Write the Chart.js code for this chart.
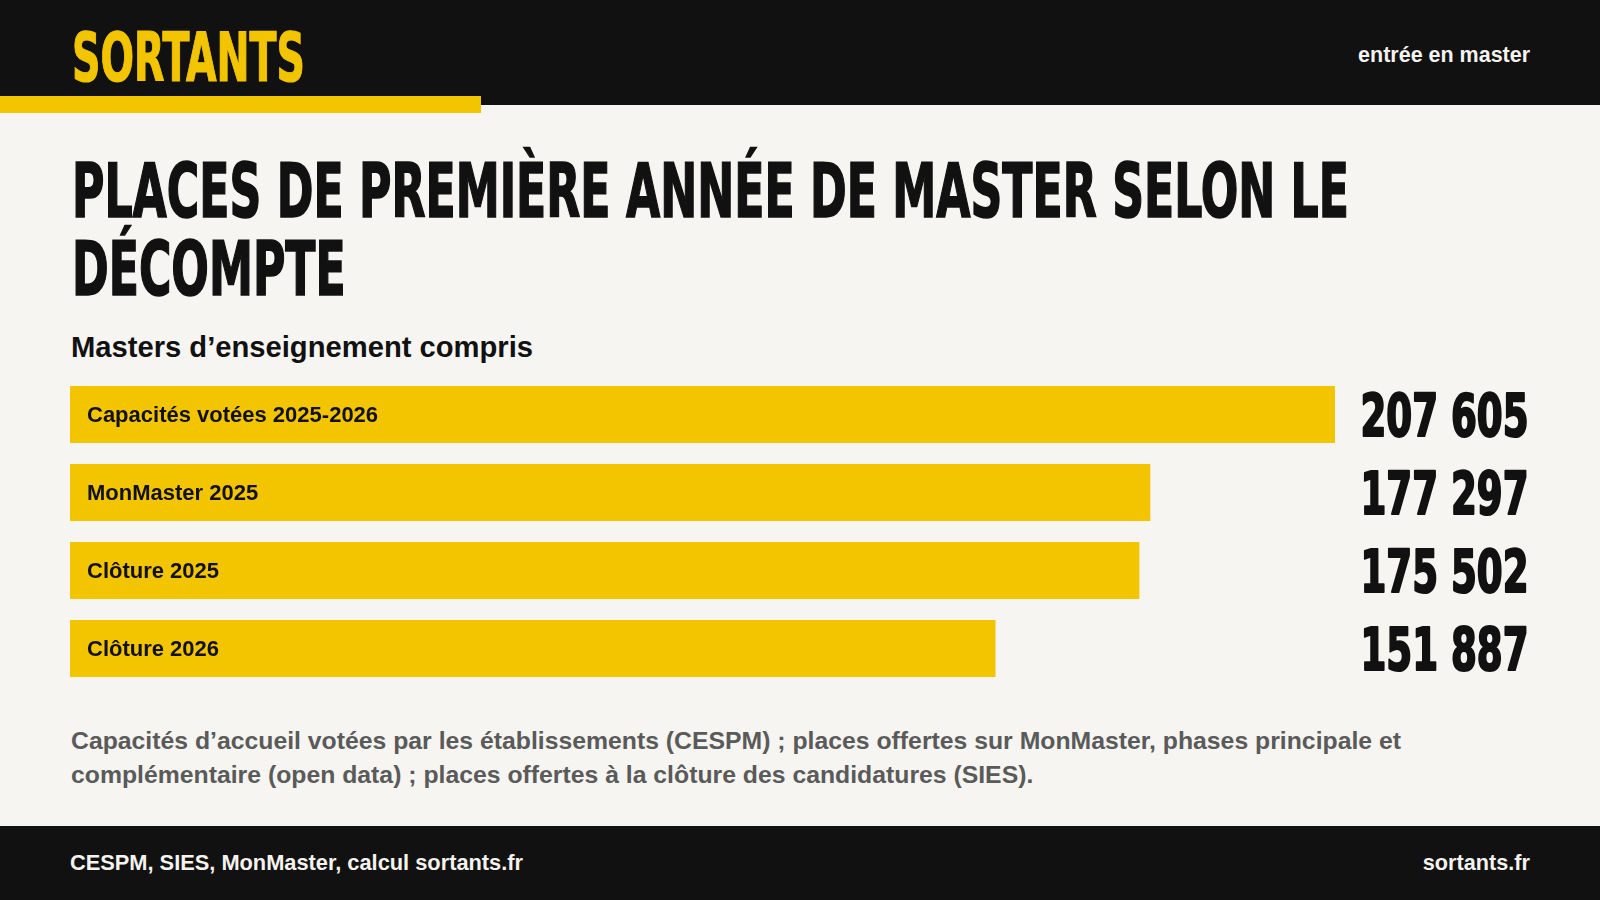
<!DOCTYPE html>
<html lang="fr">
<head>
<meta charset="utf-8">
<script src="https://cdn.jsdelivr.net/npm/chart.js@4.4.1/dist/chart.umd.min.js"></script>
<style>
  html, body { margin:0; padding:0; }
  body { width:1600px; height:900px; background:#f7f5f1; position:relative; overflow:hidden;
         font-family:"Liberation Sans", Arial, sans-serif; }
  .abs { position:absolute; white-space:nowrap; line-height:normal; }
  .band { position:absolute; left:0; width:1600px; background:#111111; }
  .disp { font-family:"DejaVu Sans Condensed", "DejaVu Sans", sans-serif; font-weight:bold; }
  #chartBox { position:absolute; left:0; top:360px; width:1600px; height:340px; }
</style>
</head>
<body>
<div class="band" style="top:0;height:105px;"></div>
<div style="position:absolute;left:0;top:96px;width:481px;height:17px;background:#f2c500;"></div>
<div class="band" style="top:826px;height:74px;"></div>

<div id="brand" class="abs disp" style="font-size:68px;color:#f2c500;-webkit-text-stroke:1.2px #f2c500;">SORTANTS</div>
<div id="tag" class="abs" style="font-size:22px;font-weight:bold;color:#f5f3ee;">entrée en master</div>

<div id="t1" class="abs disp" style="font-size:75px;color:#111;-webkit-text-stroke:1.6px #111;">PLACES DE PREMIÈRE ANNÉE DE MASTER SELON LE</div>
<div id="t2" class="abs disp" style="font-size:75px;color:#111;-webkit-text-stroke:1.6px #111;">DÉCOMPTE</div>

<div id="sub" class="abs" style="font-size:29px;font-weight:bold;color:#111;">Masters d’enseignement compris</div>

<div id="chartBox"><canvas id="c"></canvas></div>

<div id="n1" class="abs" style="font-size:24px;font-weight:bold;color:#5a5a5a;">Capacités d’accueil votées par les établissements (CESPM) ; places offertes sur MonMaster, phases principale et</div>
<div id="n2" class="abs" style="font-size:24px;font-weight:bold;color:#5a5a5a;">complémentaire (open data) ; places offertes à la clôture des candidatures (SIES).</div>

<div id="src" class="abs" style="font-size:22px;font-weight:bold;color:#f5f3ee;">CESPM, SIES, MonMaster, calcul sortants.fr</div>
<div id="site" class="abs" style="font-size:22px;font-weight:bold;color:#f5f3ee;">sortants.fr</div>

<script>
// ---- data ----
const categories = ["Capacités votées 2025-2026", "MonMaster 2025", "Clôture 2025", "Clôture 2026"];
const places = [207605, 177297, 175502, 151887];
const valueLabels = ["207 605", "177 297", "175 502", "151 887"];

// ---- text placement helpers ----
function baselineOffset(el) {
  const m = document.createElement('span');
  m.style.cssText = 'display:inline-block;width:0;height:0;vertical-align:baseline;-webkit-text-stroke:0;';
  el.appendChild(m);
  const b = m.offsetTop;
  el.removeChild(m);
  return b;
}
function place(id, x, baseY, opts) {
  opts = opts || {};
  const el = document.getElementById(id);
  const w = el.getBoundingClientRect().width;
  const b = baselineOffset(el);
  el.style.top = (baseY - b) + 'px';
  let s = 1;
  if (opts.width) s = opts.width / w;
  if (opts.scale) s = opts.scale;
  if (opts.align === 'right') {
    el.style.left = (x - w) + 'px';
    el.style.transformOrigin = 'right center';
  } else {
    el.style.left = x + 'px';
    el.style.transformOrigin = 'left center';
  }
  if (s !== 1) el.style.transform = 'scaleX(' + s + ')';
  return { w: w, s: s };
}

function layoutText() {
  place('brand', 72, 80.5, { width: 233 });
  place('tag', 1530, 62, { align: 'right', width: 172 });
  const r = place('t1', 72, 216.5, { width: 1277 });
  place('t2', 72, 294.5, { scale: r.s });
  place('sub', 71, 357, { width: 462 });
  const r1 = place('n1', 71, 749, { width: 1330 });
  place('n2', 71, 783, { scale: r1.s });
  place('src', 70, 870, { width: 453 });
  place('site', 1530, 870, { align: 'right', width: 107 });
}

// ---- chart ----
const barLabels = {
  id: 'barLabels',
  afterDatasetsDraw(chart) {
    const ctx = chart.ctx;
    const meta = chart.getDatasetMeta(0);
    ctx.save();
    ctx.fillStyle = '#111111';
    ctx.strokeStyle = '#111111';
    ctx.textBaseline = 'alphabetic';
    // category labels inside bars
    ctx.font = 'bold 22px "Liberation Sans", Arial, sans-serif';
    ctx.textAlign = 'left';
    meta.data.forEach((bar, i) => {
      ctx.fillText(chart.data.labels[i], 87, bar.y + 7.8);
    });
    // value labels at right
    ctx.font = 'bold 58px "DejaVu Sans Condensed", "DejaVu Sans", sans-serif';
    const refW = ctx.measureText(valueLabels[0]).width;
    const sx = 168 / refW;
    ctx.textAlign = 'right';
    ctx.lineWidth = 2.2;
    ctx.lineJoin = 'round';
    meta.data.forEach((bar, i) => {
      ctx.save();
      ctx.translate(1528.5, bar.y + 21);
      ctx.scale(sx, 1);
      ctx.fillText(valueLabels[i], 0, 0);
      ctx.strokeText(valueLabels[i], 0, 0);
      ctx.restore();
    });
    ctx.restore();
  }
};

function makeChart() {
  new Chart(document.getElementById('c'), {
    type: 'bar',
    data: {
      labels: categories,
      datasets: [{
        data: places,
        backgroundColor: '#f2c500',
        borderWidth: 0,
        borderSkipped: false,
        barPercentage: 57 / 78,
        categoryPercentage: 1
      }]
    },
    options: {
      indexAxis: 'y',
      responsive: true,
      maintainAspectRatio: false,
      animation: false,
      layout: { padding: { left: 70, right: 265, top: 15.5, bottom: 12.5 } },
      plugins: { legend: { display: false }, tooltip: { enabled: false } },
      scales: {
        x: { display: false, min: 0, max: Math.max(...places) },
        y: { display: false }
      }
    },
    plugins: [barLabels]
  });
}

function start() { layoutText(); makeChart(); }
if (document.fonts && document.fonts.ready) {
  document.fonts.ready.then(start);
} else { window.addEventListener('load', start); }
</script>
</body>
</html>
